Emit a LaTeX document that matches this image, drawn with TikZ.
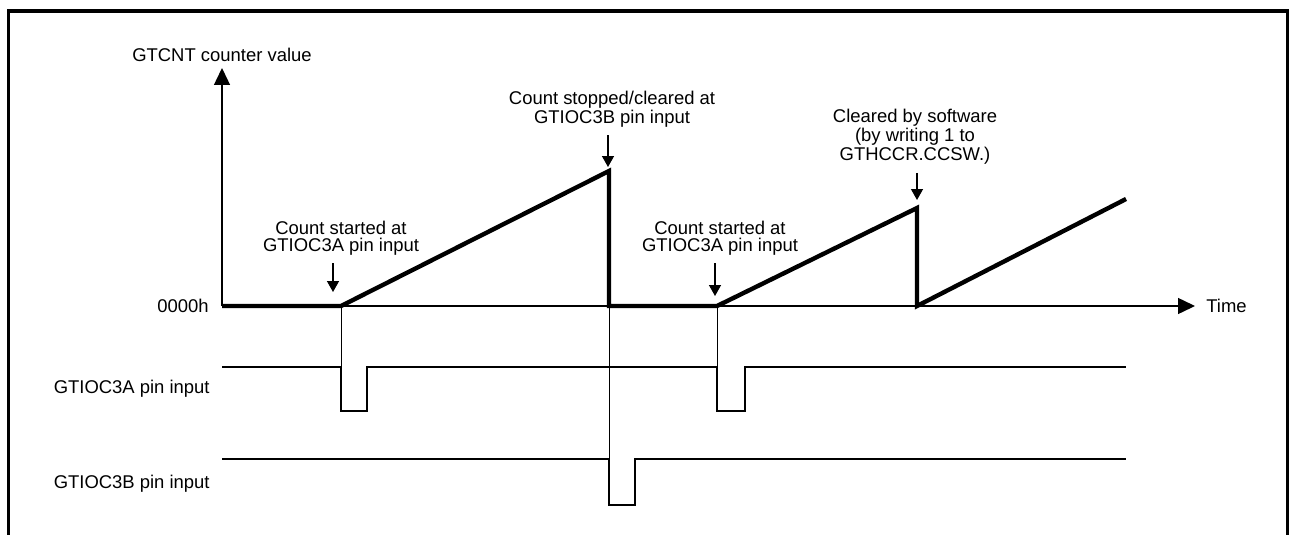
\documentclass[tikz,border=0pt]{standalone}
\usepackage{fontspec}
\setmainfont{Liberation Sans}
\usetikzlibrary{positioning}
\usetikzlibrary{calc}
\usetikzlibrary{arrows.meta}

\begin{document}
\begin{tikzpicture}[x=0.02cm, y=-0.02cm,
    lbl/.style={font=\fontsize{10.5}{9.6}\selectfont, inner sep=0pt, align=center},
    cnt/.style={line width=2.5pt, line join=miter},
    sig/.style={line width=1.1pt},
    guide/.style={line width=0.5pt},
    callout/.style={line width=0.8pt, shorten <=0.16cm, -{Triangle[width=0.24cm, length=0.22cm]}},
    axis/.style={line width=0.8pt, -{Triangle[width=0.32cm, length=0.34cm]}}]

    \useasboundingbox (0,0) rectangle (1290,534);
    \draw[line width=2pt] (8.5,545) -- (8.5,11) -- (1287.5,11) -- (1287.5,545);

    % counter axes
    \coordinate (o) at (222,306);
    \coordinate (ytip) at (222,68);
    \coordinate (tend) at (1195,306);
    \draw[axis] (o) -- (ytip);
    \draw[axis] (o) -- (tend);
    \node[lbl, above=0.12cm of ytip] (ylab) {GTCNT counter value};
    \node[lbl, left=0.26cm of o] (zero) {0000h};
    \node[lbl, right=0.22cm of tend] (time) {Time};

    % counter waveform
    \coordinate (s1) at (341,306);
    \coordinate (p1) at (609,171);
    \coordinate (c1) at (609,306);
    \coordinate (s2) at (717,306);
    \coordinate (p2) at (917,208);
    \coordinate (c2) at (917,306);
    \coordinate (e) at (1126,199);
    \draw[cnt] (o) -- (s1) -- (p1) -- (c1) -- (s2) -- (p2) -- (c2) -- (e);

    % pin inputs
    \node[lbl, anchor=east] (pina) at (210,389) {GTIOC3A pin input};
    \node[lbl, anchor=east] (pinb) at (210,484) {GTIOC3B pin input};
    \draw[sig] (222,367) -- (341,367) -- (341,411) -- (367,411) -- (367,367) -- (717,367)
        -- (717,411) -- (745,411) -- (745,367) -- (1126,367);
    \draw[sig] (222,459) -- (609,459) -- (609,505) -- (635,505) -- (635,459) -- (1126,459);
    \draw[guide] (s1) -- (341,367);
    \draw[guide] (c1) -- (609,459);
    \draw[guide] (s2) -- (717,367);

    % callouts
    \node[lbl] (start1) at (341,238) {Count started at\\GTIOC3A pin input};
    \node[lbl] (stop) at (612,109) {Count stopped/cleared at\\GTIOC3B pin input};
    \node[lbl] (start2) at (720,238) {Count started at\\GTIOC3A pin input};
    \node[lbl] (soft) at (915,137) {Cleared by software\\(by writing 1 to\\GTHCCR.CCSW.)};
    \coordinate (a1) at (333,292);
    \coordinate (a2) at (608,167);
    \coordinate (a3) at (715,296);
    \coordinate (a4) at (917,200);
    \draw[callout] (a1 |- start1.south) -- (a1);
    \draw[callout] (a2 |- stop.south) -- (a2);
    \draw[callout] (a3 |- start2.south) -- (a3);
    \draw[callout] (a4 |- soft.south) -- (a4);
\end{tikzpicture}
\end{document}
